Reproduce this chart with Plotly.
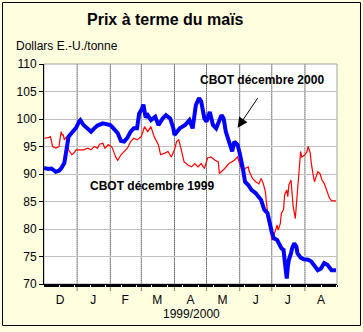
import plotly.graph_objects as go

# ---- data ----
blue_dates = ["1999-12-01","1999-12-05","1999-12-08","1999-12-12","1999-12-15","1999-12-17","1999-12-20",
"1999-12-21","1999-12-23","1999-12-24","1999-12-27","1999-12-31","2000-01-03","2000-01-04","2000-01-07",
"2000-01-11","2000-01-14","2000-01-17","2000-01-20","2000-01-25","2000-01-28","2000-02-01","2000-02-04",
"2000-02-08","2000-02-11","2000-02-14","2000-02-17","2000-02-20","2000-02-23","2000-02-26","2000-02-28",
"2000-03-01","2000-03-03","2000-03-05","2000-03-07","2000-03-10","2000-03-14","2000-03-17","2000-03-21",
"2000-03-24","2000-03-28","2000-03-31","2000-04-01","2000-04-06","2000-04-11","2000-04-15","2000-04-18",
"2000-04-21","2000-04-24","2000-04-26","2000-04-29","2000-05-01","2000-05-04","2000-05-07","2000-05-10",
"2000-05-15","2000-05-17","2000-05-19","2000-05-23","2000-05-25","2000-05-27","2000-05-30","2000-06-01",
"2000-06-02","2000-06-04","2000-06-06","2000-06-09","2000-06-12","2000-06-16","2000-06-21","2000-06-24",
"2000-06-27","2000-06-29","2000-07-01","2000-07-03","2000-07-06","2000-07-10","2000-07-12","2000-07-13",
"2000-07-15","2000-07-16","2000-07-17","2000-07-19","2000-07-20","2000-07-22","2000-07-24","2000-07-25",
"2000-07-28","2000-07-31","2000-08-04","2000-08-07","2000-08-09","2000-08-13","2000-08-16","2000-08-19",
"2000-08-22","2000-08-24","2000-08-26","2000-08-30"]
blue_values = [91.1,90.9,91.0,90.4,90.6,91.0,92.0,
93.1,95.3,96.8,97.5,98.4,99.6,99.8,98.9,
98.3,97.7,98.3,98.8,99.2,99.0,98.9,98.3,
97.4,96.0,95.9,96.6,97.7,98.3,98.3,101.0,
101.6,102.6,100.3,100.7,99.8,100.4,98.9,100.1,
100.7,100.1,98.3,97.1,98.3,98.9,99.8,98.3,
102.5,103.8,103.2,100.1,99.5,101.3,98.9,98.3,
100.7,100.1,97.7,95.3,94.1,95.9,95.3,93.8,
92.5,91.0,88.6,88.0,87.1,86.5,85.3,83.5,
82.9,81.0,79.4,78.3,78.0,76.5,76.2,74.4,
71.0,73.1,74.4,75.6,76.5,77.4,76.8,75.6,
74.8,74.5,74.4,74.1,73.5,72.5,72.8,73.8,
73.5,73.1,72.5,72.5]

red_dates = ["1999-12-01","1999-12-05","1999-12-07","1999-12-09","1999-12-12","1999-12-15","1999-12-17",
"1999-12-18","1999-12-19","1999-12-20","1999-12-22","1999-12-23","1999-12-24","1999-12-27","1999-12-29",
"1999-12-31","2000-01-03","2000-01-07","2000-01-11","2000-01-14","2000-01-17","2000-01-20","2000-01-22",
"2000-01-25","2000-01-27","2000-01-30","2000-02-02","2000-02-03","2000-02-06","2000-02-08","2000-02-11",
"2000-02-14","2000-02-17","2000-02-20","2000-02-23","2000-02-26","2000-03-01","2000-03-04","2000-03-07",
"2000-03-10","2000-03-13","2000-03-17","2000-03-19","2000-03-23","2000-03-26","2000-03-29","2000-04-01",
"2000-04-03","2000-04-05","2000-04-07","2000-04-10","2000-04-14","2000-04-17","2000-04-20","2000-04-23",
"2000-04-26","2000-04-29","2000-05-02","2000-05-05","2000-05-09","2000-05-12","2000-05-13","2000-05-15",
"2000-05-18","2000-05-22","2000-05-25","2000-05-27","2000-05-30","2000-06-01","2000-06-04","2000-06-06",
"2000-06-09","2000-06-10","2000-06-13","2000-06-16","2000-06-19","2000-06-21","2000-06-23","2000-06-25",
"2000-06-27","2000-06-29","2000-06-30","2000-07-01","2000-07-02","2000-07-04","2000-07-06","2000-07-07",
"2000-07-09","2000-07-10","2000-07-12","2000-07-13","2000-07-15","2000-07-16","2000-07-17","2000-07-19",
"2000-07-20","2000-07-21","2000-07-23","2000-07-24","2000-07-26","2000-07-27","2000-07-28","2000-07-29",
"2000-08-01","2000-08-03","2000-08-04","2000-08-06","2000-08-07","2000-08-09","2000-08-10","2000-08-11",
"2000-08-13","2000-08-15","2000-08-17","2000-08-19","2000-08-21","2000-08-22","2000-08-24","2000-08-26",
"2000-08-30"]
red_values = [96.5,96.6,96.8,95.0,94.7,95.0,97.7,
97.1,97.1,96.2,96.8,95.3,94.4,93.5,93.8,
94.4,94.4,94.4,94.7,94.4,95.0,94.7,95.4,
95.6,94.7,95.3,95.0,94.7,93.1,92.5,93.5,
94.1,94.7,95.9,96.5,96.2,96.8,98.6,97.7,
98.6,96.8,95.3,93.5,93.8,94.1,93.1,94.4,
95.9,96.2,94.7,92.2,91.6,91.3,91.9,91.3,
91.9,91.0,92.9,93.1,92.5,92.2,90.1,90.4,
91.0,91.9,92.2,92.5,93.1,91.9,90.1,91.0,
91.3,90.4,89.2,88.6,88.2,89.2,88.3,86.8,
83.1,81.6,79.5,78.0,78.3,79.5,80.7,79.8,
81.0,82.9,83.5,86.2,87.1,85.9,88.0,88.9,
87.1,84.1,81.9,84.7,89.5,92.9,94.1,93.1,
93.5,94.1,95.0,93.8,91.9,89.5,88.6,89.2,
90.4,90.1,88.9,88.3,87.1,86.5,85.6,85.1,
85.1]

month_starts = ["2000-01-01","2000-02-01","2000-03-01","2000-04-01","2000-05-01",
                "2000-06-01","2000-07-01","2000-08-01"]
month_mid = ["1999-12-16","2000-01-16","2000-02-15","2000-03-16","2000-04-16",
             "2000-05-16","2000-06-16","2000-07-16","2000-08-16"]
month_labels = ["D","J","F","M","A","M","J","J","A"]
y_ticks = [70,75,80,85,90,95,100,105,110]
x_range = ["1999-12-01","2000-08-31"]

FONT = "Arial, 'Liberation Sans', sans-serif"

fig = go.Figure()
fig.add_trace(go.Scatter(x=red_dates, y=red_values, mode="lines",
                         line=dict(color="#FF0000", width=1.2), showlegend=False))
fig.add_trace(go.Scatter(x=blue_dates, y=blue_values, mode="lines",
                         line=dict(color="#0000FF", width=4), showlegend=False))
# dummy trace for the daily tick axis
fig.add_trace(go.Scatter(x=[x_range[0]], y=[None], xaxis="x2", mode="lines",
                         showlegend=False, hoverinfo="skip"))

fig.update_layout(
    width=363, height=332, autosize=False,
    margin=dict(l=44, r=26, t=64, b=48),
    paper_bgcolor="#FFFFE0", plot_bgcolor="#FFFFFF",
    font=dict(family=FONT, size=12, color="black"),
    showlegend=False,
    xaxis=dict(type="date", range=x_range,
               tickmode="array", tickvals=month_mid, ticktext=month_labels,
               ticks="", showgrid=False, zeroline=False,
               showline=True, linecolor="black", linewidth=1,
               tickfont=dict(size=12), ticklabelstandoff=5),
    xaxis2=dict(type="date", range=x_range, overlaying="x", anchor="y", side="bottom",
                showticklabels=False, showgrid=False, zeroline=False,
                ticks="outside", ticklen=2, tickcolor="black", tickwidth=1,
                dtick=86400000, tick0="1999-12-01"),
    yaxis=dict(range=[70, 110], tickmode="array", tickvals=y_ticks,
               ticks="outside", ticklen=4, tickcolor="black",
               showline=True, linecolor="black", linewidth=1,
               showgrid=True, gridcolor="#C0C0C0", gridwidth=1, zeroline=False,
               tickfont=dict(size=12)),
)

# month separators (dotted), extending slightly below the axis
for m in month_starts:
    fig.add_shape(type="line", xref="x", yref="paper", x0=m, x1=m, y0=-0.03, y1=1,
                  line=dict(color="black", width=1, dash="1px,1px"), layer="below")

# plot-area gray frame (top/right)
fig.add_shape(type="rect", xref="paper", yref="paper", x0=0, x1=1, y0=0, y1=1,
              line=dict(color="#A0A0A0", width=1), layer="below")
# outer black frame
fig.add_shape(type="rect", xref="paper", yref="paper",
              x0=-0.1416, x1=1.0802, y0=-0.1886, y1=1.2795,
              line=dict(color="black", width=1), fillcolor="rgba(0,0,0,0)")

fig.add_annotation(text="<b>Prix à terme du maïs</b>", xref="paper", yref="paper",
                   x=0.4147, y=1.2045, xanchor="center", yanchor="middle",
                   showarrow=False, font=dict(size=16))
fig.add_annotation(text="Dollars E.-U./tonne", xref="paper", yref="paper",
                   x=-0.1024, y=1.0818, xanchor="left", yanchor="middle",
                   showarrow=False, font=dict(size=12))
fig.add_annotation(text="1999/2000", xref="paper", yref="paper",
                   x=0.502, y=-0.1364, xanchor="center", yanchor="middle",
                   showarrow=False, font=dict(size=12))
fig.add_annotation(text="<b>CBOT décembre 2000</b>", xref="paper", yref="paper",
                   x=0.7457, y=0.9273, xanchor="center", yanchor="middle",
                   showarrow=False, font=dict(size=12))
fig.add_annotation(text="<b>CBOT décembre 1999</b>", xref="paper", yref="paper",
                   x=0.3686, y=0.4468, xanchor="center", yanchor="middle",
                   showarrow=False, font=dict(size=12))
fig.add_annotation(text="", xref="paper", yref="paper", x=0.661, y=0.7105,
                   ax=21, ay=-31, showarrow=True, arrowhead=2, arrowsize=2,
                   arrowwidth=1, arrowcolor="black", standoff=0)

fig.write_html("out.html")
